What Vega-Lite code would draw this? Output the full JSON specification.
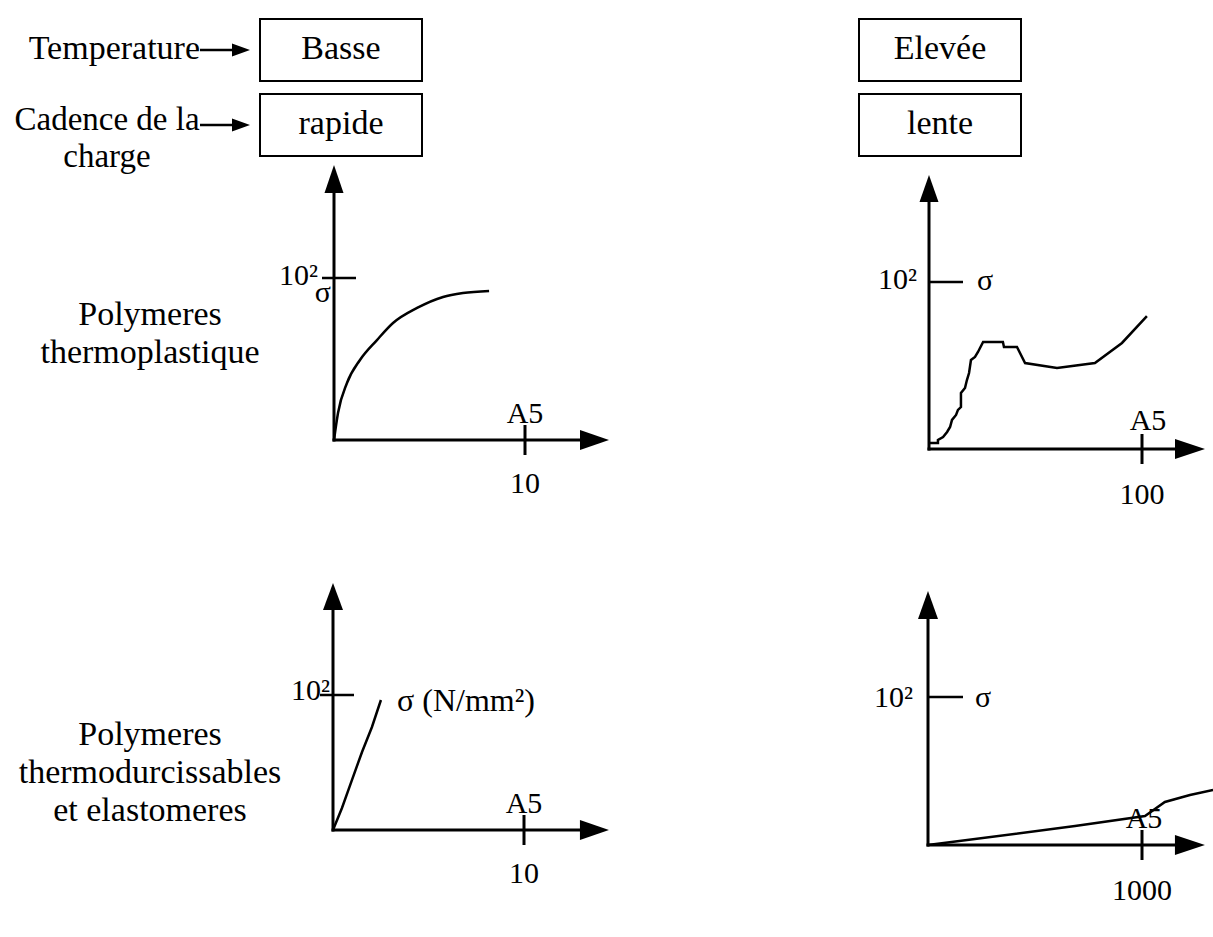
{
  "$schema": "https://vega.github.io/schema/vega-lite/v6.json",
  "width": 1213,
  "height": 937,
  "autosize": {"type": "none"},
  "padding": 0,
  "background": "white",
  "config": {
    "view": {"stroke": null},
    "text": {"font": "Liberation Serif", "fontSize": 30, "color": "black", "baseline": "alphabetic", "align": "center"},
    "point": {"opacity": 1}
  },
  "datasets": {
    "conditions": [
      {"factor": "Temperature", "regime": "Basse / rapide", "level": "Basse"},
      {"factor": "Temperature", "regime": "Elevée / lente", "level": "Elevée"},
      {"factor": "Cadence de la charge", "regime": "Basse / rapide", "level": "rapide"},
      {"factor": "Cadence de la charge", "regime": "Elevée / lente", "level": "lente"}
    ],
    "factors": [
      {"factor": "Temperature", "regime": "Basse / rapide", "label": "Temperature"},
      {"factor": "Cadence de la charge", "regime": "Basse / rapide", "label": "Cadence de la\ncharge"}
    ],
    "materials": [
      {"family": "Polymeres", "material": "Polymeres thermoplastique", "label": "Polymeres\nthermoplastique"},
      {"family": "Polymeres", "material": "Polymeres thermodurcissables et elastomeres", "label": "Polymeres\nthermodurcissables\net elastomeres"}
    ],
    "tl_axes": [
      {"axis": "A5", "A5": 0, "sigma": 0}, {"axis": "A5", "A5": 12.88, "sigma": 0},
      {"axis": "sigma", "A5": 0, "sigma": 0}, {"axis": "sigma", "A5": 0, "sigma": 152.5}
    ],
    "tl_ticks": [
      {"axis": "A5", "A5": 10, "sigma": 0, "tick": "10", "name": "A5"},
      {"axis": "sigma", "A5": 0, "sigma": 100, "tick": "10²", "name": "σ"}
    ],
    "tl_curve": [
      {"A5": 0, "sigma": 0}, {"A5": 0.21, "sigma": 16.7}, {"A5": 0.68, "sigma": 35.2}, {"A5": 1.36, "sigma": 49.4},
      {"A5": 2.25, "sigma": 61.7}, {"A5": 3.09, "sigma": 72.2}, {"A5": 4.35, "sigma": 81.5}, {"A5": 5.71, "sigma": 88.3},
      {"A5": 6.75, "sigma": 90.7}, {"A5": 8.12, "sigma": 92.0}
    ],
    "tr_axes": [
      {"axis": "A5", "A5": 0, "sigma": 0}, {"axis": "A5", "A5": 115.5, "sigma": 0},
      {"axis": "sigma", "A5": 0, "sigma": 0}, {"axis": "sigma", "A5": 0, "sigma": 147.9}
    ],
    "tr_ticks": [
      {"axis": "A5", "A5": 100, "sigma": 0, "tick": "100", "name": "A5"},
      {"axis": "sigma", "A5": 0, "sigma": 100, "tick": "10²", "name": "σ"}
    ],
    "tr_curve": [
      {"A5": 0, "sigma": 3.6}, {"A5": 4.2, "sigma": 3.6}, {"A5": 4.2, "sigma": 5.4}, {"A5": 6.6, "sigma": 7.2},
      {"A5": 8.5, "sigma": 10.2}, {"A5": 9.9, "sigma": 13.2}, {"A5": 10.8, "sigma": 17.4}, {"A5": 12.7, "sigma": 20.4},
      {"A5": 13.6, "sigma": 23.4}, {"A5": 15.0, "sigma": 25.1}, {"A5": 15.0, "sigma": 33.5}, {"A5": 16.9, "sigma": 36.5},
      {"A5": 17.8, "sigma": 41.3}, {"A5": 18.8, "sigma": 45.5}, {"A5": 19.7, "sigma": 53.3}, {"A5": 21.6, "sigma": 55.1},
      {"A5": 23.0, "sigma": 58.1}, {"A5": 25.4, "sigma": 64.1}, {"A5": 34.7, "sigma": 64.1}, {"A5": 35.2, "sigma": 61.1},
      {"A5": 41.3, "sigma": 61.1}, {"A5": 45.1, "sigma": 51.5}, {"A5": 60.1, "sigma": 48.5}, {"A5": 77.9, "sigma": 51.5},
      {"A5": 90.6, "sigma": 63.5}, {"A5": 102.3, "sigma": 79.6}
    ],
    "bl_axes": [
      {"axis": "A5", "A5": 0, "sigma": 0}, {"axis": "A5", "A5": 12.93, "sigma": 0},
      {"axis": "sigma", "A5": 0, "sigma": 0}, {"axis": "sigma", "A5": 0, "sigma": 163.0}
    ],
    "bl_ticks": [
      {"axis": "A5", "A5": 10, "sigma": 0, "tick": "10", "name": "A5"},
      {"axis": "sigma", "A5": 0, "sigma": 100, "tick": "10²", "name": "σ (N/mm²)"}
    ],
    "bl_curve": [
      {"A5": 0, "sigma": 0}, {"A5": 0.47, "sigma": 16.3}, {"A5": 0.99, "sigma": 37.0}, {"A5": 1.52, "sigma": 57.8},
      {"A5": 2.04, "sigma": 76.3}, {"A5": 2.30, "sigma": 87.4}, {"A5": 2.51, "sigma": 96.3}
    ],
    "br_axes": [
      {"axis": "A5", "A5": 0, "sigma": 0}, {"axis": "A5", "A5": 1154, "sigma": 0},
      {"axis": "sigma", "A5": 0, "sigma": 0}, {"axis": "sigma", "A5": 0, "sigma": 152.7}
    ],
    "br_ticks": [
      {"axis": "A5", "A5": 1000, "sigma": 0, "tick": "1000", "name": "A5"},
      {"axis": "sigma", "A5": 0, "sigma": 100, "tick": "10²", "name": "σ"}
    ],
    "br_curve": [
      {"A5": 0, "sigma": 0}, {"A5": 687, "sigma": 12.8}, {"A5": 1014, "sigma": 19.6}, {"A5": 1107, "sigma": 29.1},
      {"A5": 1224, "sigma": 33.8}, {"A5": 1332, "sigma": 37.2}
    ]
  },
  "resolve": {"scale": {"x": "independent", "y": "independent"}},
  "layer": [
    {
      "data": {"name": "conditions"},
      "encoding": {
        "x": {"field": "regime", "type": "nominal", "scale": {"type": "point", "domain": ["Basse / rapide", "Elevée / lente"], "range": [341, 940], "padding": 0}, "axis": null},
        "y": {"field": "factor", "type": "nominal", "scale": {"type": "point", "domain": ["Temperature", "Cadence de la charge"], "range": [50, 125], "padding": 0}, "axis": null}
      },
      "layer": [
        {"mark": {"type": "point", "shape": "M-81,-31H81V31H-81Z", "size": 4, "filled": false, "color": "black", "strokeWidth": 2, "opacity": 1}},
        {"mark": {"type": "text", "fontSize": 34, "dy": 9}, "encoding": {"text": {"field": "level"}}},
        {"data": {"name": "factors"}, "transform": [{"filter": "datum.factor == 'Temperature'"}], "mark": {"type": "text", "fontSize": 34, "align": "right", "dx": -141, "dy": 9}, "encoding": {"text": {"field": "label"}}},
        {"data": {"name": "factors"}, "transform": [{"filter": "datum.factor != 'Temperature'"}], "mark": {"type": "text", "fontSize": 33, "align": "center", "dx": -234, "dy": 5, "lineBreak": "\n", "lineHeight": 37}, "encoding": {"text": {"field": "label"}}},
        {"data": {"name": "factors"}, "mark": {"type": "point", "shape": "M-141,-1.2H-109V-6.5L-91,0L-109,6.5V1.2H-141Z", "size": 4, "filled": true, "color": "black", "strokeWidth": 0, "opacity": 1}}
      ]
    },
    {
      "data": {"name": "materials"},
      "mark": {"type": "text", "fontSize": 34, "lineBreak": "\n", "lineHeight": 38, "align": "center"},
      "encoding": {
        "x": {"field": "family", "type": "nominal", "scale": {"type": "point", "domain": ["Polymeres"], "range": [150, 150], "padding": 0}, "axis": null},
        "y": {"field": "material", "type": "nominal", "scale": {"type": "point", "domain": ["Polymeres thermoplastique", "Polymeres thermodurcissables et elastomeres"], "range": [325, 745], "padding": 0}, "axis": null},
        "text": {"field": "label"}
      }
    },
    {
      "encoding": {
        "x": {"field": "A5", "type": "quantitative", "scale": {"domain": [0, 10], "range": [334, 525], "nice": false, "zero": false}, "axis": null},
        "y": {"field": "sigma", "type": "quantitative", "scale": {"domain": [0, 100], "range": [440, 278], "nice": false, "zero": false}, "axis": null}
      },
      "layer": [
        {"data": {"name": "tl_axes"}, "mark": {"type": "line", "color": "black", "strokeWidth": 3, "strokeCap": "square"}, "encoding": {"detail": {"field": "axis"}}},
        {"data": {"name": "tl_axes"}, "transform": [{"filter": "datum.axis == 'A5' && datum.A5 > 0"}], "mark": {"type": "point", "shape": "M29,0L0,-10L0,10Z", "size": 4, "filled": true, "color": "black", "strokeWidth": 0, "opacity": 1}},
        {"data": {"name": "tl_axes"}, "transform": [{"filter": "datum.axis == 'sigma' && datum.sigma > 0"}], "mark": {"type": "point", "shape": "M0,-28L9.5,0L-9.5,0Z", "size": 4, "filled": true, "color": "black", "strokeWidth": 0, "opacity": 1}},
        {"data": {"name": "tl_ticks"}, "transform": [{"filter": "datum.axis == 'A5'"}], "mark": {"type": "point", "shape": "M0,-15V15", "size": 4, "filled": false, "color": "black", "strokeWidth": 3, "opacity": 1}},
        {"data": {"name": "tl_ticks"}, "transform": [{"filter": "datum.axis == 'sigma'"}], "mark": {"type": "point", "shape": "M-12,0H22", "size": 4, "filled": false, "color": "black", "strokeWidth": 2.5, "opacity": 1}},
        {"data": {"name": "tl_ticks"}, "transform": [{"filter": "datum.axis == 'A5'"}], "mark": {"type": "text", "dy": -17}, "encoding": {"text": {"field": "name"}}},
        {"data": {"name": "tl_ticks"}, "transform": [{"filter": "datum.axis == 'A5'"}], "mark": {"type": "text", "dy": 53}, "encoding": {"text": {"field": "tick"}}},
        {"data": {"name": "tl_ticks"}, "transform": [{"filter": "datum.axis == 'sigma'"}], "mark": {"type": "text", "align": "right", "dx": -16, "dy": 7}, "encoding": {"text": {"field": "tick"}}},
        {"data": {"name": "tl_ticks"}, "transform": [{"filter": "datum.axis == 'sigma'"}], "mark": {"type": "text", "align": "right", "dx": -3, "dy": 24}, "encoding": {"text": {"field": "name"}}},
        {"data": {"name": "tl_curve"}, "mark": {"type": "line", "color": "black", "strokeWidth": 2.5, "interpolate": "monotone"}}
      ]
    },
    {
      "encoding": {
        "x": {"field": "A5", "type": "quantitative", "scale": {"domain": [0, 100], "range": [929, 1142], "nice": false, "zero": false}, "axis": null},
        "y": {"field": "sigma", "type": "quantitative", "scale": {"domain": [0, 100], "range": [449, 282], "nice": false, "zero": false}, "axis": null}
      },
      "layer": [
        {"data": {"name": "tr_axes"}, "mark": {"type": "line", "color": "black", "strokeWidth": 3, "strokeCap": "square"}, "encoding": {"detail": {"field": "axis"}}},
        {"data": {"name": "tr_axes"}, "transform": [{"filter": "datum.axis == 'A5' && datum.A5 > 0"}], "mark": {"type": "point", "shape": "M30,0L0,-10L0,10Z", "size": 4, "filled": true, "color": "black", "strokeWidth": 0, "opacity": 1}},
        {"data": {"name": "tr_axes"}, "transform": [{"filter": "datum.axis == 'sigma' && datum.sigma > 0"}], "mark": {"type": "point", "shape": "M0,-27L9.5,0L-9.5,0Z", "size": 4, "filled": true, "color": "black", "strokeWidth": 0, "opacity": 1}},
        {"data": {"name": "tr_ticks"}, "transform": [{"filter": "datum.axis == 'A5'"}], "mark": {"type": "point", "shape": "M0,-15V15", "size": 4, "filled": false, "color": "black", "strokeWidth": 3, "opacity": 1}},
        {"data": {"name": "tr_ticks"}, "transform": [{"filter": "datum.axis == 'sigma'"}], "mark": {"type": "point", "shape": "M0,0H34", "size": 4, "filled": false, "color": "black", "strokeWidth": 2.5, "opacity": 1}},
        {"data": {"name": "tr_ticks"}, "transform": [{"filter": "datum.axis == 'A5'"}], "mark": {"type": "text", "dx": 6, "dy": -19}, "encoding": {"text": {"field": "name"}}},
        {"data": {"name": "tr_ticks"}, "transform": [{"filter": "datum.axis == 'A5'"}], "mark": {"type": "text", "dy": 55}, "encoding": {"text": {"field": "tick"}}},
        {"data": {"name": "tr_ticks"}, "transform": [{"filter": "datum.axis == 'sigma'"}], "mark": {"type": "text", "align": "right", "dx": -12, "dy": 7}, "encoding": {"text": {"field": "tick"}}},
        {"data": {"name": "tr_ticks"}, "transform": [{"filter": "datum.axis == 'sigma'"}], "mark": {"type": "text", "align": "left", "dx": 48, "dy": 8}, "encoding": {"text": {"field": "name"}}},
        {"data": {"name": "tr_curve"}, "mark": {"type": "line", "color": "black", "strokeWidth": 2.5}}
      ]
    },
    {
      "encoding": {
        "x": {"field": "A5", "type": "quantitative", "scale": {"domain": [0, 10], "range": [333, 524], "nice": false, "zero": false}, "axis": null},
        "y": {"field": "sigma", "type": "quantitative", "scale": {"domain": [0, 100], "range": [830, 695], "nice": false, "zero": false}, "axis": null}
      },
      "layer": [
        {"data": {"name": "bl_axes"}, "mark": {"type": "line", "color": "black", "strokeWidth": 3, "strokeCap": "square"}, "encoding": {"detail": {"field": "axis"}}},
        {"data": {"name": "bl_axes"}, "transform": [{"filter": "datum.axis == 'A5' && datum.A5 > 0"}], "mark": {"type": "point", "shape": "M29,0L0,-10L0,10Z", "size": 4, "filled": true, "color": "black", "strokeWidth": 0, "opacity": 1}},
        {"data": {"name": "bl_axes"}, "transform": [{"filter": "datum.axis == 'sigma' && datum.sigma > 0"}], "mark": {"type": "point", "shape": "M0,-27L10,0L-10,0Z", "size": 4, "filled": true, "color": "black", "strokeWidth": 0, "opacity": 1}},
        {"data": {"name": "bl_ticks"}, "transform": [{"filter": "datum.axis == 'A5'"}], "mark": {"type": "point", "shape": "M0,-15V15", "size": 4, "filled": false, "color": "black", "strokeWidth": 3, "opacity": 1}},
        {"data": {"name": "bl_ticks"}, "transform": [{"filter": "datum.axis == 'sigma'"}], "mark": {"type": "point", "shape": "M-13,0H21", "size": 4, "filled": false, "color": "black", "strokeWidth": 2.5, "opacity": 1}},
        {"data": {"name": "bl_ticks"}, "transform": [{"filter": "datum.axis == 'A5'"}], "mark": {"type": "text", "dy": -17}, "encoding": {"text": {"field": "name"}}},
        {"data": {"name": "bl_ticks"}, "transform": [{"filter": "datum.axis == 'A5'"}], "mark": {"type": "text", "dy": 53}, "encoding": {"text": {"field": "tick"}}},
        {"data": {"name": "bl_ticks"}, "transform": [{"filter": "datum.axis == 'sigma'"}], "mark": {"type": "text", "align": "right", "dx": -3, "dy": 5}, "encoding": {"text": {"field": "tick"}}},
        {"data": {"name": "bl_ticks"}, "transform": [{"filter": "datum.axis == 'sigma'"}], "mark": {"type": "text", "align": "left", "fontSize": 32, "dx": 64, "dy": 16}, "encoding": {"text": {"field": "name"}}},
        {"data": {"name": "bl_curve"}, "mark": {"type": "line", "color": "black", "strokeWidth": 2.5}}
      ]
    },
    {
      "encoding": {
        "x": {"field": "A5", "type": "quantitative", "scale": {"domain": [0, 1000], "range": [928, 1142], "nice": false, "zero": false}, "axis": null},
        "y": {"field": "sigma", "type": "quantitative", "scale": {"domain": [0, 100], "range": [845, 697], "nice": false, "zero": false}, "axis": null}
      },
      "layer": [
        {"data": {"name": "br_axes"}, "mark": {"type": "line", "color": "black", "strokeWidth": 3, "strokeCap": "square"}, "encoding": {"detail": {"field": "axis"}}},
        {"data": {"name": "br_axes"}, "transform": [{"filter": "datum.axis == 'A5' && datum.A5 > 0"}], "mark": {"type": "point", "shape": "M30,0L0,-10L0,10Z", "size": 4, "filled": true, "color": "black", "strokeWidth": 0, "opacity": 1}},
        {"data": {"name": "br_axes"}, "transform": [{"filter": "datum.axis == 'sigma' && datum.sigma > 0"}], "mark": {"type": "point", "shape": "M0,-28L10,0L-10,0Z", "size": 4, "filled": true, "color": "black", "strokeWidth": 0, "opacity": 1}},
        {"data": {"name": "br_ticks"}, "transform": [{"filter": "datum.axis == 'A5'"}], "mark": {"type": "point", "shape": "M0,-15V15", "size": 4, "filled": false, "color": "black", "strokeWidth": 3, "opacity": 1}},
        {"data": {"name": "br_ticks"}, "transform": [{"filter": "datum.axis == 'sigma'"}], "mark": {"type": "point", "shape": "M0,0H35", "size": 4, "filled": false, "color": "black", "strokeWidth": 2.5, "opacity": 1}},
        {"data": {"name": "br_ticks"}, "transform": [{"filter": "datum.axis == 'A5'"}], "mark": {"type": "text", "dx": 2, "dy": -17}, "encoding": {"text": {"field": "name"}}},
        {"data": {"name": "br_ticks"}, "transform": [{"filter": "datum.axis == 'A5'"}], "mark": {"type": "text", "dy": 55}, "encoding": {"text": {"field": "tick"}}},
        {"data": {"name": "br_ticks"}, "transform": [{"filter": "datum.axis == 'sigma'"}], "mark": {"type": "text", "align": "right", "dx": -15, "dy": 10}, "encoding": {"text": {"field": "tick"}}},
        {"data": {"name": "br_ticks"}, "transform": [{"filter": "datum.axis == 'sigma'"}], "mark": {"type": "text", "align": "left", "dx": 47, "dy": 10}, "encoding": {"text": {"field": "name"}}},
        {"data": {"name": "br_curve"}, "mark": {"type": "line", "color": "black", "strokeWidth": 2.5}}
      ]
    }
  ]
}
